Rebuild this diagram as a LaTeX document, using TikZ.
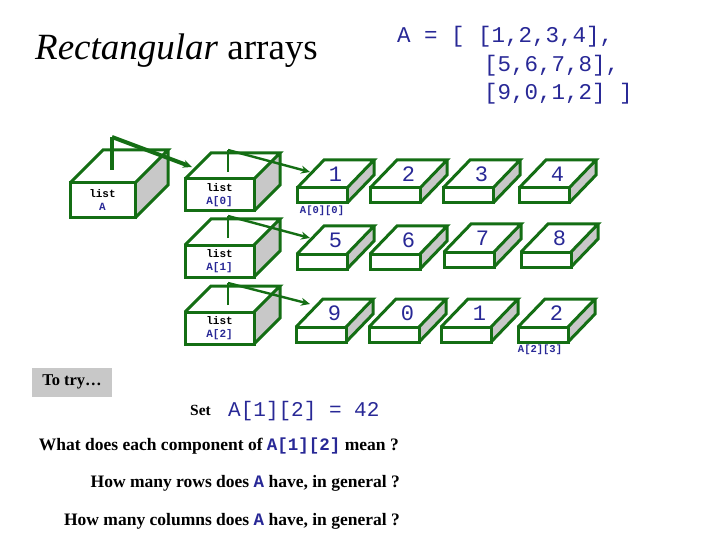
\documentclass[tikz,border=0pt]{standalone}
\usetikzlibrary{arrows.meta}
\usepackage{fontspec}
\setmainfont{Liberation Serif}
\setmonofont{Liberation Mono}
\definecolor{bgreen}{RGB}{20,110,20}
\definecolor{tblue}{RGB}{40,40,150}
\definecolor{sgrey}{RGB}{200,200,200}
\newcommand\flatbox[3]{% x y name
  \fill[white] (#1,#2) -- (#1+27,#2-28) -- (#1+77,#2-28) -- (#1+50,#2) -- cycle;
  \fill[sgrey] (#1+50,#2) -- (#1+77,#2-28) -- (#1+77,#2-13) -- (#1+50,#2+15) -- cycle;
  \draw[boxline] (#1,#2) rectangle (#1+50,#2+15);
  \draw[boxline] (#1,#2) -- (#1+27,#2-28) -- (#1+77,#2-28) -- (#1+50,#2) (#1+77,#2-28) -- (#1+77,#2-13) -- (#1+50,#2+15);
  \node[num] (#3) at (#1+38.5,#2-14) {\csname numof#3\endcsname};}
\newcommand\listbox[6]{% x y w h d name
  \fill[sgrey] (#1+#3,#2) -- (#1+#3+#5,#2-#5) -- (#1+#3+#5,#2+#4-#5) -- (#1+#3,#2+#4) -- cycle;
  \draw[boxline] (#1,#2) rectangle (#1+#3,#2+#4);
  \draw[boxline] (#1,#2) -- (#1+#5,#2-#5) -- (#1+#3+#5,#2-#5) -- (#1+#3,#2) (#1+#3+#5,#2-#5) -- (#1+#3+#5,#2+#4-#5) -- (#1+#3,#2+#4);
  \coordinate (#6) at (#1+#3/2,#2+#4/2);}
\begin{document}
\begin{tikzpicture}[x=1pt,y=-1pt,
  boxline/.style={draw=bgreen,line width=3pt,line join=miter},
  ptr/.style={draw=bgreen,line width=3.2pt},
  arr/.style={draw=bgreen,line width=2.4pt,-{Stealth[length=9pt,width=8pt]}},
  num/.style={text=tblue,font=\ttfamily\fontsize{22}{22}\selectfont,inner sep=0pt},
  lbl/.style={font=\ttfamily\bfseries\fontsize{11}{13}\selectfont,align=center,inner sep=0pt},
  idx/.style={text=tblue,font=\ttfamily\bfseries\fontsize{10.5}{10}\selectfont,inner sep=0pt},
  q/.style={font=\bfseries\fontsize{17.5}{17.5}\selectfont,inner sep=0pt,anchor=base east}]
\useasboundingbox (0,0) rectangle (720,540);
\node[anchor=base west,inner sep=0pt,font=\fontsize{37}{37}\selectfont] (title) at (35,60) {\textit{Rectangular} arrays};
\node[anchor=base west,inner sep=0pt,text=tblue,font=\ttfamily\fontsize{22.5}{22}\selectfont] (c1) at (397,43) {A = [ [1,2,3,4],};
\node[anchor=base west,inner sep=0pt,text=tblue,font=\ttfamily\fontsize{22.5}{22}\selectfont] (c2) at (484,72) {[5,6,7,8],};
\node[anchor=base west,inner sep=0pt,text=tblue,font=\ttfamily\fontsize{22.5}{22}\selectfont] (c3) at (484,100) {[9,0,1,2] ]};
% list A
\listbox{70}{183}{65}{35}{33}{LA}
\node[lbl] (tLA) at (LA) {list\\\textcolor{tblue}{A}};
\listbox{185}{179}{69}{32}{26}{L0}
\node[lbl] (tL0) at (L0) {list\\\textcolor{tblue}{A[0]}};
\listbox{185}{245}{69}{32}{26}{L1}
\node[lbl] (tL1) at (L1) {list\\\textcolor{tblue}{A[1]}};
\listbox{185}{312}{69}{32}{26}{L2}
\node[lbl] (tL2) at (L2) {list\\\textcolor{tblue}{A[2]}};
% pointers
\coordinate (pA) at (112,170); \coordinate (qA) at (112,137); \coordinate (eA) at (192,167);
\draw[ptr,line width=4pt] (pA) -- (qA); \draw[arr,line width=4pt] (qA) -- (eA);
\foreach \r/\y/\e in {0/172/172,1/238/238,2/305/304}{
  \coordinate (p\r) at (228,\y); \coordinate (q\r) at (228,\y-22); \coordinate (e\r) at (310,\e);
  \draw[ptr,line width=2.8pt] (p\r) -- (q\r); \draw[arr] (q\r) -- (e\r);}
% numbers
\def\numofa{1}\def\numofb{2}\def\numofc{3}\def\numofd{4}
\def\numofe{5}\def\numoff{6}\def\numofg{7}\def\numofh{8}
\def\numofi{9}\def\numofj{0}\def\numofk{1}\def\numofl{2}
\flatbox{297}{188}{a}\flatbox{370}{188}{b}\flatbox{443}{188}{c}\flatbox{519}{188}{d}
\flatbox{297}{254}{e}\flatbox{370}{254}{f}\flatbox{444}{252}{g}\flatbox{521}{252}{h}
\flatbox{296}{327}{i}\flatbox{369}{327}{j}\flatbox{441}{327}{k}\flatbox{518}{327}{l}
\node[idx] (i00) at (322,211) {A[0][0]};
\node[idx] (i23) at (540,350) {A[2][3]};
% bottom
\node[fill=sgrey,minimum width=80pt,minimum height=29pt,inner sep=0pt,font=\bfseries\fontsize{16.5}{16}\selectfont] (try) at (72,382) {To try\ldots};
\node[anchor=base west,inner sep=0pt,font=\bfseries\fontsize{15.5}{15}\selectfont] (set) at (190,415) {Set};
\node[anchor=base west,inner sep=0pt,text=tblue,font=\ttfamily\fontsize{21}{20}\selectfont] (setc) at (228,416) {A[1][2] = 42};
\node[q] (q1) at (399,450) {What does each component of \textcolor{tblue}{\ttfamily A[1][2]} mean ?};
\node[q] (q2) at (400,487) {How many rows does \textcolor{tblue}{\ttfamily A} have, in general ?};
\node[q] (q3) at (400,525) {How many columns does \textcolor{tblue}{\ttfamily A} have, in general ?};
\end{tikzpicture}
\end{document}
